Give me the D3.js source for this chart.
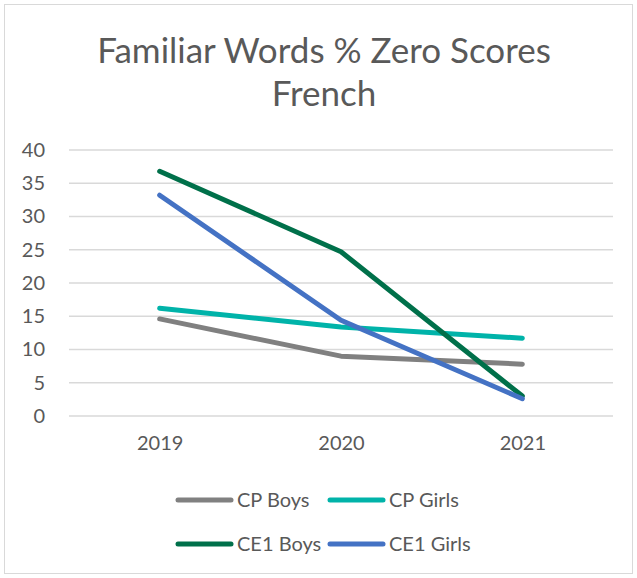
<!DOCTYPE html>
<html>
<head>
<meta charset="utf-8">
<script src="https://cdn.jsdelivr.net/npm/d3@7"></script>
<style>
  body { margin: 0; background: #fff; }
  text { font-family: Lato, "Open Sans", sans-serif; fill: #595959; }
</style>
</head>
<body>
<div id="chart"></div>
<script>
// chart data
var years = ["2019", "2020", "2021"];
var seriesNames = ["CP Boys", "CP Girls", "CE1 Boys", "CE1 Girls"];
var cpBoys = [14.6, 9.0, 7.8];
var cpGirls = [16.2, 13.4, 11.7];
var ce1Boys = [36.8, 24.7, 3.0];
var ce1Girls = [33.2, 14.4, 2.6];
var yTicks = [0, 5, 10, 15, 20, 25, 30, 35, 40];
var colors = ["#808080", "#00b3a9", "#00704a", "#4472c4"];

var allSeries = [cpBoys, cpGirls, ce1Boys, ce1Girls];

var W = 637, H = 578;
var margin = {top: 150, right: 24, bottom: 162, left: 69},
    width = W - margin.left - margin.right,
    height = H - margin.top - margin.bottom;

var svg = d3.select("#chart")
  .append("svg")
    .attr("width", W)
    .attr("height", H);

// outer border
svg.append("rect")
  .attr("x", 4.5).attr("y", 4.5)
  .attr("width", W - 9).attr("height", H - 9)
  .attr("fill", "none")
  .attr("stroke", "#d9d9d9")
  .attr("stroke-width", 1);

// title
svg.append("text")
  .attr("x", 324).attr("y", 63)
  .attr("text-anchor", "middle")
  .style("font-size", "35px")
  .text("Familiar Words % Zero Scores");
svg.append("text")
  .attr("x", 324).attr("y", 106)
  .attr("text-anchor", "middle")
  .style("font-size", "35px")
  .text("French");

var g = svg.append("g")
  .attr("transform", "translate(" + margin.left + "," + margin.top + ")");

var x = d3.scalePoint()
  .domain(years)
  .range([0, width])
  .padding(0.5);

var y = d3.scaleLinear()
  .domain([0, 40])
  .range([height, 0]);

// gridlines
g.append("g")
  .selectAll("line")
  .data(yTicks)
  .enter()
  .append("line")
    .attr("x1", 0).attr("x2", width)
    .attr("y1", d => y(d)).attr("y2", d => y(d))
    .attr("stroke", "#d9d9d9")
    .attr("stroke-width", 1.5);

// y axis labels
var yAxis = g.append("g")
  .call(d3.axisLeft(y).tickValues(yTicks).tickSize(0).tickPadding(24));
yAxis.select(".domain").remove();
yAxis.selectAll("text")
  .style("font-size", "20px")
  .style("font-family", "Lato, 'Open Sans', sans-serif")
  .attr("fill", "#595959");

// x axis labels
var xAxis = g.append("g")
  .attr("transform", "translate(0," + height + ")")
  .call(d3.axisBottom(x).tickSize(0).tickPadding(20));
xAxis.select(".domain").remove();
xAxis.selectAll("text")
  .style("font-size", "20px")
  .style("font-family", "Lato, 'Open Sans', sans-serif")
  .attr("fill", "#595959");

// lines
var line = d3.line()
  .x((d, i) => x(years[i]))
  .y(d => y(d));

g.selectAll(".series")
  .data(allSeries)
  .enter()
  .append("path")
    .attr("class", "series")
    .attr("d", line)
    .attr("fill", "none")
    .attr("stroke", (d, i) => colors[i])
    .attr("stroke-width", 5)
    .attr("stroke-linecap", "round")
    .attr("stroke-linejoin", "round");

// legend
var legendPos = [[178, 500], [330, 500], [178, 544], [330, 544]];
var legend = svg.append("g")
  .selectAll("g")
  .data(seriesNames)
  .enter()
  .append("g")
    .attr("transform", (d, i) => "translate(" + legendPos[i][0] + "," + legendPos[i][1] + ")");

legend.append("line")
  .attr("x1", 0).attr("x2", 53)
  .attr("y1", 0).attr("y2", 0)
  .attr("stroke", (d, i) => colors[i])
  .attr("stroke-width", 5)
  .attr("stroke-linecap", "round");

legend.append("text")
  .attr("x", 59).attr("y", 7)
  .style("font-size", "20px")
  .text(d => d);
</script>
</body>
</html>
